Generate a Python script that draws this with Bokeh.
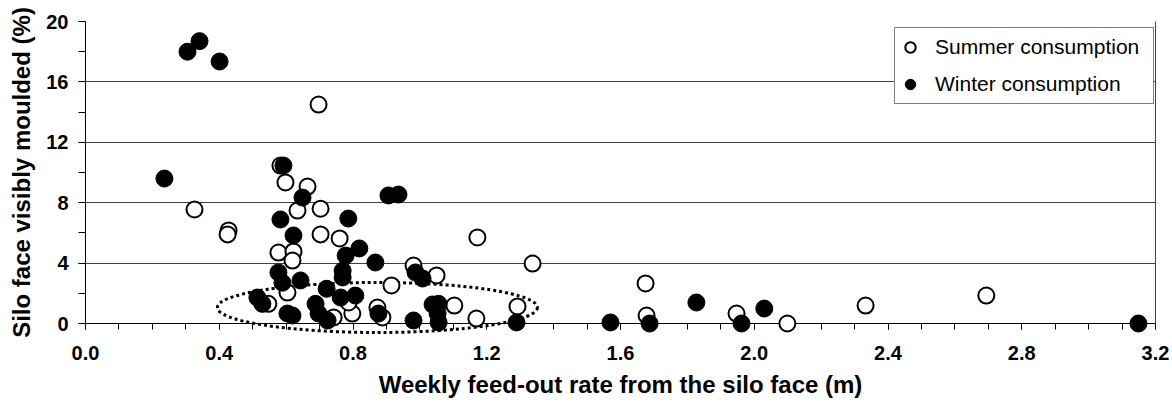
from bokeh.plotting import figure
from bokeh.models import (Range1d, LinearAxis, SingleIntervalTicker, FixedTicker,
                          PrintfTickFormatter, Legend, LegendItem)
from bokeh.embed import file_html
from bokeh.resources import INLINE

# ---- data ----
summer_x = [0.697, 0.326, 0.428, 0.425, 0.583, 0.598, 0.664, 0.634, 0.703, 0.703,
            0.760, 0.577, 0.622, 0.619, 0.604, 0.547, 0.742, 0.798, 0.873, 0.888,
            1.172, 1.337, 0.981, 1.050, 0.915, 1.103, 1.169, 1.292, 1.675, 1.678,
            1.947, 2.099, 2.333, 2.694, 0.787]
summer_y = [14.5, 7.55, 6.16, 5.9, 10.46, 9.34, 9.07, 7.48, 7.6, 5.9,
            5.63, 4.7, 4.77, 4.17, 2.05, 1.3, 0.4, 0.66, 1.06, 0.4,
            5.7, 3.97, 3.84, 3.18, 2.52, 1.19, 0.33, 1.13, 2.65, 0.53,
            0.66, 0.0, 1.19, 1.85, 1.39]

winter_x = [0.305, 0.341, 0.401, 0.236, 0.592, 0.649, 0.583, 0.786, 0.622, 0.778,
            0.819, 0.867, 0.577, 0.769, 0.769, 0.589, 0.643, 0.721, 0.763, 0.807,
            0.514, 0.529, 0.604, 0.619, 0.688, 0.697, 0.724, 0.876, 0.906, 0.936,
            0.987, 1.008, 1.038, 1.056, 1.053, 1.056, 0.981, 1.289, 1.570, 1.687,
            1.827, 1.962, 2.030, 3.149]
winter_y = [18.0, 18.7, 17.35, 9.6, 10.46, 8.34, 6.89, 6.95, 5.83, 4.5,
            4.97, 4.04, 3.38, 3.5, 3.05, 2.7, 2.85, 2.3, 1.72, 1.85,
            1.72, 1.3, 0.66, 0.53, 1.3, 0.66, 0.2, 0.66, 8.48, 8.54,
            3.38, 2.98, 1.26, 1.3, 0.66, 0.07, 0.2, 0.07, 0.07, 0.0,
            1.39, 0.0, 0.99, 0.0]

# dotted ellipse highlighting the low-mould cluster
ell_x = [0.873]
ell_y = [1.06]
ell_w = [0.957]
ell_h = [3.31]

labels = ["Summer consumption", "Winter consumption"]
x_title = "Weekly feed-out rate from the silo face (m)"
y_title = "Silo face visibly moulded (%)"

FONT = "Liberation Sans"

p = figure(width=1172, height=403, output_backend="svg", toolbar_location=None,
           x_range=Range1d(0, 3.2), y_range=Range1d(0, 20),
           min_border_left=85, min_border_right=17, min_border_top=21,
           min_border_bottom=80, background_fill_color="white",
           border_fill_color="white")
p.outline_line_color = None
p.xgrid.visible = False

# y axis
ya = p.yaxis[0]
ya.ticker = SingleIntervalTicker(interval=4, num_minor_ticks=2)
ya.major_tick_out = 7
ya.major_tick_in = 0
ya.minor_tick_out = 7
ya.minor_tick_in = 0
ya.axis_line_color = "black"
ya.major_tick_line_color = "black"
ya.minor_tick_line_color = "black"
ya.major_label_text_font = FONT
ya.major_label_text_font_style = "bold"
ya.major_label_text_font_size = "20px"
ya.major_label_text_color = "black"
ya.major_label_standoff = 10
ya.axis_label = y_title
ya.axis_label_text_font = FONT
ya.axis_label_text_font_style = "bold"
ya.axis_label_text_font_size = "24px"
ya.axis_label_text_color = "black"
ya.axis_label_standoff = 8

# x axis
xa = p.xaxis[0]
xa.ticker = SingleIntervalTicker(interval=0.4, num_minor_ticks=4)
xa.formatter = PrintfTickFormatter(format="%.1f")
xa.major_tick_out = 6
xa.major_tick_in = 0
xa.minor_tick_out = 6
xa.minor_tick_in = 0
xa.axis_line_color = "black"
xa.major_tick_line_color = "black"
xa.minor_tick_line_color = "black"
xa.major_label_text_font = FONT
xa.major_label_text_font_style = "bold"
xa.major_label_text_font_size = "20px"
xa.major_label_text_color = "black"
xa.major_label_standoff = 16
xa.axis_label = x_title
xa.axis_label_text_font = FONT
xa.axis_label_text_font_style = "bold"
xa.axis_label_text_font_size = "24px"
xa.axis_label_text_color = "black"
xa.axis_label_standoff = 8

p.ygrid.grid_line_color = "#404040"
p.ygrid.grid_line_width = 1

# right border line
ra = LinearAxis(ticker=FixedTicker(ticks=[]), axis_line_color="#404040",
                major_tick_out=0, major_tick_in=0, minor_tick_out=0, minor_tick_in=0)
p.add_layout(ra, "right")

p.ellipse(x=ell_x, y=ell_y, width=ell_w, height=ell_h, fill_color=None,
          line_color="black", line_width=3, line_dash="3 3", level="overlay")

r_s = p.scatter(summer_x, summer_y, marker="circle", size=16, fill_color="white",
                line_color="black", line_width=2, level="overlay")
r_w = p.scatter(winter_x, winter_y, marker="circle", size=17, fill_color="black",
                line_color="black", line_width=1, level="overlay")

legend = Legend(items=[LegendItem(label=labels[0], renderers=[r_s]),
                       LegendItem(label=labels[1], renderers=[r_w])],
                location=(809, 219), orientation="vertical",
                border_line_color="black", border_line_width=1,
                background_fill_color="white", background_fill_alpha=1,
                padding=2, spacing=3, margin=0,
                glyph_width=26, glyph_height=26, label_height=34, label_width=216,
                label_standoff=12, label_text_font=FONT, label_text_color="black",
                label_text_font_size="21px")
p.add_layout(legend, "center")

open("out.html", "w").write(file_html(p, INLINE))
